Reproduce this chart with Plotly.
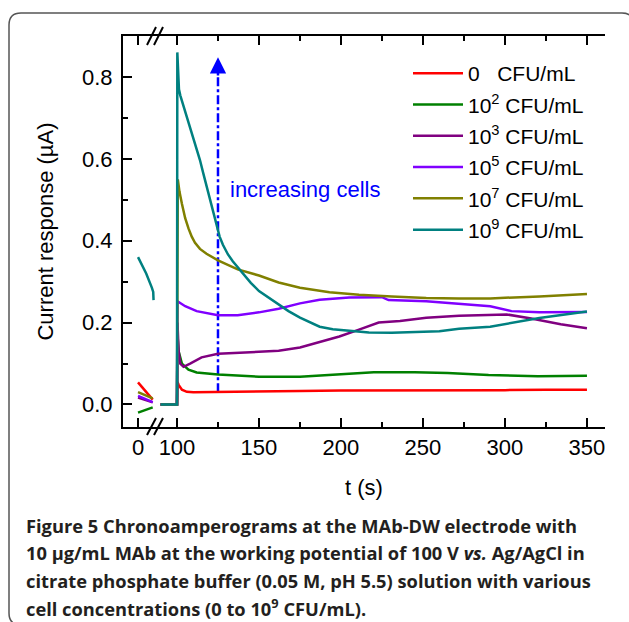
import plotly.graph_objects as go

# ---------------- data ----------------
series_names = ["0\u00a0\u00a0\u00a0CFU/mL", "10<sup>2</sup> CFU/mL", "10<sup>3</sup> CFU/mL",
                "10<sup>5</sup> CFU/mL", "10<sup>7</sup> CFU/mL", "10<sup>9</sup> CFU/mL"]
colors = ["#FF0000", "#008000", "#800080", "#8000FF", "#808000", "#008080"]

# left segment (before the axis break)
left_t_red = [0, 9]
left_v_red = [0.054, 0.012]
left_t_green = [0, 9]
left_v_green = [-0.02, -0.007]
left_t_purple = [0, 9]
left_v_purple = [0.017, 0.005]
left_t_violet = [0, 9]
left_v_violet = [0.021, 0.006]
left_t_olive = [0, 9]
left_v_olive = [0.030, 0.015]
left_t_teal = [0, 5, 8.5, 9.3, 9.5]
left_v_teal = [0.36, 0.32, 0.285, 0.275, 0.255]

# right segment (after the axis break)
t_red = [90, 100, 100.3, 101, 103, 106, 110, 125, 150, 175, 200, 225, 250, 275, 300, 325, 350]
v_red = [0, 0, 0.055, 0.048, 0.036, 0.031, 0.030, 0.031, 0.032, 0.033, 0.034, 0.034, 0.034, 0.035, 0.035, 0.036, 0.036]

t_green = [90, 100, 100.3, 101, 103, 107, 112, 125, 150, 175, 200, 220, 245, 265, 290, 320, 350]
v_green = [0, 0, 0.17, 0.13, 0.10, 0.085, 0.078, 0.073, 0.068, 0.068, 0.074, 0.079, 0.079, 0.077, 0.072, 0.069, 0.070]

t_purple = [90, 100, 100.3, 101, 102, 104, 108, 115, 125, 150, 162, 175, 187, 199, 211, 223, 236, 252, 272, 291, 301, 316, 334, 350]
v_purple = [0, 0, 0.20, 0.13, 0.10, 0.092, 0.10, 0.115, 0.124, 0.128, 0.131, 0.139, 0.153, 0.166, 0.183, 0.200, 0.204, 0.212, 0.217, 0.218, 0.220, 0.210, 0.196, 0.186]

t_violet = [90, 100, 100.3, 105, 112, 125, 137, 150, 162, 175, 187, 205, 225, 229, 252, 272, 291, 304, 321, 350]
v_violet = [0, 0, 0.252, 0.240, 0.228, 0.218, 0.218, 0.225, 0.234, 0.247, 0.256, 0.261, 0.262, 0.255, 0.252, 0.246, 0.240, 0.228, 0.225, 0.226]

t_olive = [90, 100, 100.5, 101.5, 103, 105, 107, 109, 111, 114, 118, 125, 137, 150, 162, 175, 193, 211, 231, 252, 272, 291, 321, 350]
v_olive = [0, 0, 0.55, 0.52, 0.49, 0.455, 0.43, 0.41, 0.395, 0.38, 0.368, 0.352, 0.330, 0.315, 0.298, 0.285, 0.274, 0.268, 0.264, 0.260, 0.259, 0.259, 0.264, 0.270]

t_teal = [90, 100, 100.2, 100.6, 101.2, 102, 103, 104.5, 106, 108, 110, 112, 114, 116, 118, 120, 122, 124,
          126, 128, 131, 134, 137, 141, 145, 150, 156, 162, 168, 175, 181, 187, 195, 205, 217, 231, 248,
          260, 272, 291, 321, 350]
v_teal = [0, 0, 0.86, 0.80, 0.77, 0.755, 0.742, 0.725, 0.705, 0.68, 0.655, 0.625, 0.597, 0.565, 0.533,
          0.50, 0.47, 0.44, 0.41, 0.39, 0.367, 0.35, 0.335, 0.315, 0.297, 0.277, 0.26, 0.244, 0.228, 0.212,
          0.20, 0.19, 0.184, 0.18, 0.176, 0.175, 0.178, 0.179, 0.185, 0.19, 0.211, 0.227]

arrow_t = [125, 125]
arrow_v = [0.03, 0.80]
arrow_tip = 0.848

x_ticks_left = [0]
x_ticks_right = [100, 150, 200, 250, 300, 350]
x_minor_right = [125, 175, 225, 275, 325]

caption_lines = [
    "<b>Figure 5</b> <b>Chronoamperograms at the MAb-DW electrode with</b>",
    "<b>10 \u00b5g/mL MAb at the working potential of 100 V <i>vs.</i> Ag/AgCl in</b>",
    "<b>citrate phosphate buffer (0.05 M, pH 5.5) solution with various</b>",
    "<b>cell concentrations (0 to 10<sup>9</sup> CFU/mL).</b>",
]

# ---------------- figure ----------------
W, H = 629, 622
ML, MR, MT, MB = 123, 24, 36, 195
PW, PH = W - ML - MR, H - MT - MB


def px(x):
    return (x - ML) / PW


def py(y):
    return (H - MB - y) / PH


FONT = "Liberation Sans, Arial, sans-serif"
fig = go.Figure()

left_data = [(left_t_red, left_v_red), (left_t_green, left_v_green), (left_t_purple, left_v_purple),
             (left_t_violet, left_v_violet), (left_t_olive, left_v_olive), (left_t_teal, left_v_teal)]
right_data = [(t_red, v_red), (t_green, v_green), (t_purple, v_purple),
              (t_violet, v_violet), (t_olive, v_olive), (t_teal, v_teal)]

for i, (tt, vv) in enumerate(left_data):
    fig.add_trace(go.Scatter(x=tt, y=vv, mode="lines", xaxis="x", yaxis="y",
                             line=dict(color=colors[i], width=2.5), showlegend=False,
                             hoverinfo="skip"))

fig.add_trace(go.Scatter(x=arrow_t, y=arrow_v, mode="lines", xaxis="x2", yaxis="y",
                         line=dict(color="#0000FF", width=2.5, dash="9px,3px,3px,3px"),
                         showlegend=False, hoverinfo="skip"))

for i, (tt, vv) in enumerate(right_data):
    fig.add_trace(go.Scatter(x=tt, y=vv, mode="lines", xaxis="x2", yaxis="y",
                             line=dict(color=colors[i], width=2.5), name=series_names[i],
                             legendgroup="g%d" % i))

axis_common = dict(showgrid=False, zeroline=False, showline=True, linecolor="black", linewidth=2,
                   ticks="inside", tickcolor="black", tickwidth=2, ticklen=9,
                   tickfont=dict(family=FONT, size=22, color="black"))

split = px(156)
fig.update_layout(
    width=W, height=H,
    margin=dict(l=ML, r=MR, t=MT, b=MB),
    paper_bgcolor="white", plot_bgcolor="white",
    font=dict(family=FONT, color="black"),
    xaxis=dict(domain=[0, split], range=[-9.2, 11], tickvals=x_ticks_left, mirror="ticks",
               anchor="y", **axis_common),
    xaxis2=dict(domain=[split, 1], range=[87.2, 361], tickvals=x_ticks_right, mirror="ticks",
                anchor="y",
                minor=dict(tickvals=x_minor_right, ticks="inside", ticklen=5, tickwidth=2, tickcolor="black"),
                **axis_common),
    yaxis=dict(domain=[0, 1], range=[-0.055, 0.9], dtick=0.2, tick0=0, tickformat=".1f", anchor="x",
               ticklabelstandoff=4,
               minor=dict(dtick=0.1, tick0=0, ticks="inside", ticklen=5, tickwidth=2, tickcolor="black"),
               title=dict(text="Current response (\u00b5A)", font=dict(family=FONT, size=22), standoff=22),
               **axis_common),
    yaxis2=dict(overlaying="y", side="right", anchor="x2", range=[-0.055, 0.9], dtick=0.2, tick0=0,
                showticklabels=False,
                minor=dict(dtick=0.1, tick0=0, ticks="inside", ticklen=5, tickwidth=2, tickcolor="black"),
                **axis_common),
    legend=dict(x=px(408), y=py(53), xanchor="left", yanchor="top", bgcolor="rgba(0,0,0,0)",
                font=dict(family=FONT, size=21, color="black"), itemwidth=50, tracegroupgap=1),
)

annotations = [
    dict(text="t (s)", x=0.5, y=py(487), xref="paper", yref="paper", showarrow=False,
         font=dict(family=FONT, size=22, color="black"), xanchor="center", yanchor="middle"),
    dict(text="increasing cells", x=131.2, y=0.524, xref="x2", yref="y", showarrow=False,
         font=dict(family=FONT, size=22, color="#0000FF"), xanchor="left", yanchor="middle"),
    dict(text="", x=125, y=arrow_tip, ax=125, ay=0.80, xref="x2", yref="y", axref="x2", ayref="y",
         showarrow=True, arrowhead=2, arrowsize=1.3, arrowwidth=2.5, arrowcolor="#0000FF"),
]
cap_y = [525, 552, 580, 607]
for line, yy in zip(caption_lines, cap_y):
    annotations.append(dict(text=line, x=px(24), y=py(yy), xref="paper", yref="paper", showarrow=False,
                            xanchor="left", yanchor="middle",
                            font=dict(family="Open Sans, Noto Sans, sans-serif", size=18.3, color="#231f20")))
fig.update_layout(annotations=annotations)

shapes = []
# axis-break marks
for (yb, yt) in [(45, 27), (435, 418)]:
    for x0 in (147, 154):
        shapes.append(dict(type="line", xref="paper", yref="paper",
                           x0=px(x0), y0=py(yb), x1=px(x0 + 9), y1=py(yt),
                           line=dict(color="black", width=2)))
# rounded figure border
L, T, R, B, r = 9, 13, 634, 625, 12
path = ("M {a},{b} L {c},{b} ".format(a=px(L + r), b=py(T), c=px(R - r)) +
        "Q {x},{y} {x},{y2} ".format(x=px(R), y=py(T), y2=py(T + r)) +
        "L {x},{y} ".format(x=px(R), y=py(B - r)) +
        "Q {x},{y} {x2},{y} ".format(x=px(R), y=py(B), x2=px(R - r)) +
        "L {x},{y} ".format(x=px(L + r), y=py(B)) +
        "Q {x},{y} {x},{y2} ".format(x=px(L), y=py(B), y2=py(B - r)) +
        "L {x},{y} ".format(x=px(L), y=py(T + r)) +
        "Q {x},{y} {x2},{y} Z".format(x=px(L), y=py(T), x2=px(L + r)))
shapes.append(dict(type="path", xref="paper", yref="paper", path=path,
                   line=dict(color="#555555", width=1.5)))
fig.update_layout(shapes=shapes)

fig.write_html("out.html")
